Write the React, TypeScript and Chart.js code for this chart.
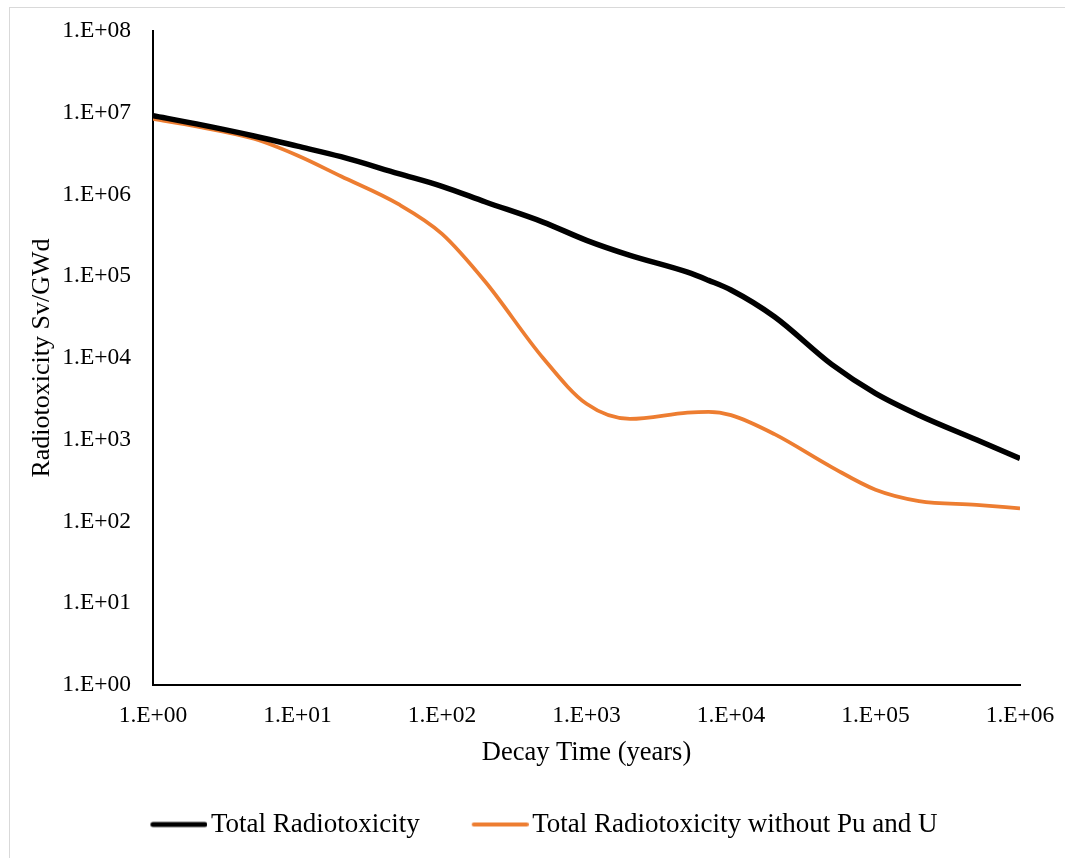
import React, { useEffect, useRef } from 'react';
import { Chart, registerables } from 'chart.js';

Chart.register(...registerables);

// Decay time in years
const decayYears = [1, 2, 5, 10, 20, 50, 100, 200, 500, 1000, 2000, 5000, 7000, 10000, 20000, 50000, 100000, 200000, 500000, 1000000];

// Total Radiotoxicity (Sv/GWd)
const totalRadiotoxicity = [9.2e6, 7.3e6, 5.2e6, 3.9e6, 2.9e6, 1.8e6, 1.26e6, 8.1e5, 4.6e5, 2.75e5, 1.8e5, 1.12e5, 8.9e4, 6.8e4, 3.2e4, 8.3e3, 3.7e3, 2.0e3, 1.0e3, 5.9e2];

// Total Radiotoxicity without Pu and U (Sv/GWd)
const withoutPuAndU = [8.4e6, 6.8e6, 4.8e6, 3.0e6, 1.67e6, 7.6e5, 3.3e5, 8.5e4, 1.0e4, 2.75e3, 1.8e3, 2.15e3, 2.2e3, 2.0e3, 1.17e3, 4.6e2, 2.45e2, 1.78e2, 1.6e2, 1.45e2];

const seriesNames = ['Total Radiotoxicity', 'Total Radiotoxicity without Pu and U'];
const seriesColors = ['#000000', '#ED7D31'];

const xTickValues = [1, 10, 100, 1000, 10000, 100000, 1000000];
const xTickLabels = ['1.E+00', '1.E+01', '1.E+02', '1.E+03', '1.E+04', '1.E+05', '1.E+06'];
const yTickValues = [1, 10, 100, 1000, 10000, 100000, 1000000, 10000000, 100000000];
const yTickLabels = ['1.E+00', '1.E+01', '1.E+02', '1.E+03', '1.E+04', '1.E+05', '1.E+06', '1.E+07', '1.E+08'];

const xTitle = 'Decay Time (years)';
const yTitle = 'Radiotoxicity Sv/GWd';

const FONT = "'Liberation Serif', 'Times New Roman', serif";

function legendIcon(color: string, lw: number) {
  const c = document.createElement('canvas');
  c.width = 67;
  c.height = 8;
  const ctx = c.getContext('2d')!;
  ctx.strokeStyle = color;
  ctx.lineWidth = lw;
  ctx.lineCap = 'round';
  ctx.beginPath();
  ctx.moveTo(10 + lw / 2, 4);
  ctx.lineTo(67 - lw / 2, 4);
  ctx.stroke();
  return c;
}

export default function App() {
  const ref = useRef<HTMLCanvasElement | null>(null);

  useEffect(() => {
    if (!ref.current) return;
    const widths = [5.5, 3.75];
    const series = [totalRadiotoxicity, withoutPuAndU];
    const chart = new Chart(ref.current, {
      type: 'line',
      data: {
        datasets: series.map((vals, i) => ({
          label: seriesNames[i],
          data: decayYears.map((x, j) => ({ x, y: vals[j] })),
          borderColor: seriesColors[i],
          backgroundColor: seriesColors[i],
          borderWidth: widths[i],
          pointRadius: 0,
          pointHoverRadius: 0,
          pointStyle: legendIcon(seriesColors[i], i === 0 ? 5 : 4),
          cubicInterpolationMode: 'monotone' as const,
          fill: false,
        })),
      },
      options: {
        animation: false,
        responsive: true,
        maintainAspectRatio: false,
        layout: { padding: { left: 13, right: 0, top: 23, bottom: 10 } },
        plugins: {
          tooltip: { enabled: false },
          legend: {
            position: 'bottom',
            labels: {
              usePointStyle: true,
              pointStyleWidth: 47,
              padding: 52,
              color: '#000',
              font: { family: FONT, size: 27 },
            },
          },
        },
        scales: {
          x: {
            type: 'logarithmic',
            position: 'bottom',
            min: 1,
            max: 1000000,
            grid: { display: false, drawTicks: false },
            border: { display: true, color: '#000', width: 2 },
            ticks: {
              padding: 17,
              color: '#000',
              autoSkip: false,
              maxRotation: 0,
              font: { family: FONT, size: 23.5 },
              callback: (_v: any, i: number) => xTickLabels[i],
            },
            afterBuildTicks: (s: any) => {
              s.ticks = xTickValues.map((v) => ({ value: v }));
            },
            afterFit: (s: any) => {
              s.height = 74;
              s.paddingRight = 45;
            },
            title: {
              display: true,
              text: xTitle,
              color: '#000',
              font: { family: FONT, size: 26.5 },
              padding: { top: 0, bottom: -10 },
            },
          },
          y: {
            type: 'logarithmic',
            min: 1,
            max: 100000000,
            grid: { display: false, drawTicks: false },
            border: { display: true, color: '#000', width: 2 },
            ticks: {
              padding: 22,
              color: '#000',
              autoSkip: false,
              font: { family: FONT, size: 23.5 },
              callback: (_v: any, i: number) => yTickLabels[i],
            },
            afterBuildTicks: (s: any) => {
              s.ticks = yTickValues.map((v) => ({ value: v }));
            },
            afterFit: (s: any) => {
              s.width = 130;
              s.paddingTop = 0;
              s.paddingBottom = 0;
            },
            title: {
              display: true,
              text: yTitle,
              color: '#000',
              font: { family: FONT, size: 26 },
              padding: { top: 4, bottom: 0 },
            },
          },
        },
      },
    } as any);
    return () => chart.destroy();
  }, []);

  return (
    <div
      style={{
        position: 'fixed',
        left: 9,
        top: 7,
        width: 1055,
        height: 850,
        borderLeft: '1px solid #d9d9d9',
        borderTop: '1px solid #d9d9d9',
        background: '#fff',
      }}
    >
      <canvas ref={ref} />
    </div>
  );
}
